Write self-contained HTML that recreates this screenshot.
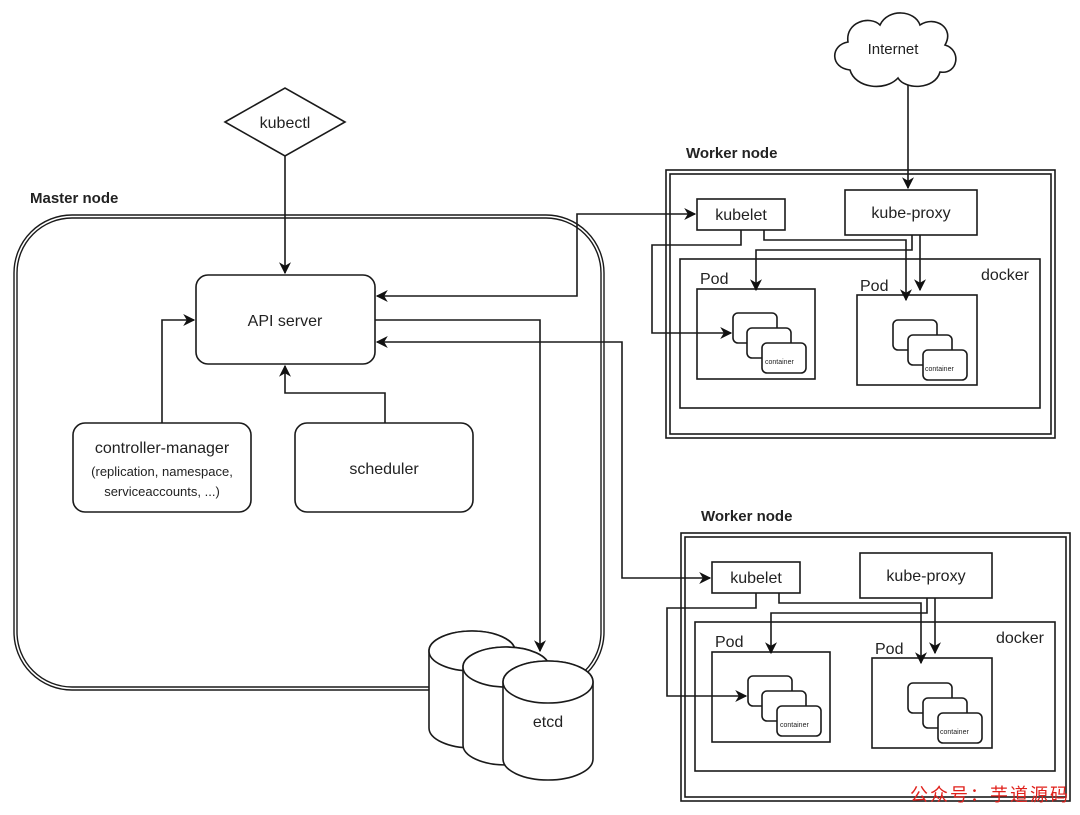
<!DOCTYPE html>
<html><head><meta charset="utf-8"><style>
html,body{margin:0;padding:0;background:#fff;width:1080px;height:815px;overflow:hidden}
svg text{font-family:"Liberation Sans","Noto Sans CJK SC",sans-serif;fill:#222}
</style></head><body>
<svg width="1080" height="815" viewBox="0 0 1080 815" xmlns="http://www.w3.org/2000/svg">
<defs>
<marker id="a" viewBox="0 0 10 10" refX="9" refY="5" markerWidth="12" markerHeight="12" orient="auto-start-reverse" markerUnits="userSpaceOnUse"><path d="M0,0 L10,5 L0,10 L3,5 Z" fill="#111"/></marker>
</defs>
<g fill="none" stroke="#1a1a1a" stroke-width="1.6">
<!-- Master node -->
<rect x="14" y="215" width="590" height="475" rx="58" stroke-width="1.4"/>
<rect x="17" y="218" width="584" height="469" rx="55" stroke-width="1.4"/>
<!-- kubectl -->
<polygon points="225,122 285,88 345,122 285,156" fill="#fff"/>
<line x1="285" y1="156" x2="285" y2="273" marker-end="url(#a)"/>
<!-- API server -->
<rect x="196" y="275" width="179" height="89" rx="12" fill="#fff"/>
<rect x="73" y="423" width="178" height="89" rx="12" fill="#fff"/>
<rect x="295" y="423" width="178" height="89" rx="12" fill="#fff"/>
<polyline points="162,423 162,320 194,320" marker-end="url(#a)"/>
<polyline points="385,423 385,393 285,393 285,366" marker-end="url(#a)"/>
<!-- API -> etcd -->
<polyline points="375,320 540,320 540,651" marker-end="url(#a)"/>
<!-- API <-> kubelet1 -->
<polyline points="377,296 577,296 577,214 695,214" marker-start="url(#a)" marker-end="url(#a)"/>
<!-- API <-> kubelet2 -->
<polyline points="377,342 622,342 622,578 710,578" marker-start="url(#a)" marker-end="url(#a)"/>
<!-- etcd cylinders -->
<path d="M429,651 V728 A43,20 0 0 0 515,728 V651 A43,20 0 0 0 429,651 Z" fill="#fff"/>
<ellipse cx="472" cy="651" rx="43" ry="20" fill="#fff"/>
<path d="M463,667 V745 A43,20 0 0 0 549,745 V667 A43,20 0 0 0 463,667 Z" fill="#fff"/>
<ellipse cx="506" cy="667" rx="43" ry="20" fill="#fff"/>
<path d="M503,682 V759 A45,21 0 0 0 593,759 V682 A45,21 0 0 0 503,682 Z" fill="#fff"/>
<ellipse cx="548" cy="682" rx="45" ry="21" fill="#fff"/>
<!-- Internet cloud -->
<path d="M850,70 C830,68 830,45 848,42 C845,22 870,15 880,25 C888,8 915,10 920,25 C935,15 955,28 945,45 C962,50 958,75 940,72 C935,90 905,90 898,78 C885,92 855,88 850,70 Z" fill="#fff"/>
<line x1="908" y1="85" x2="908" y2="188" marker-end="url(#a)"/>
</g>
<g font-size="16">
<text x="30" y="203" font-weight="bold" font-size="15">Master node</text>
<text x="285" y="128" text-anchor="middle">kubectl</text>
<text x="285" y="326" text-anchor="middle">API server</text>
<text x="162" y="453" text-anchor="middle">controller-manager</text>
<text x="162" y="476" text-anchor="middle" font-size="13">(replication, namespace,</text>
<text x="162" y="496" text-anchor="middle" font-size="13">serviceaccounts, ...)</text>
<text x="384" y="474" text-anchor="middle">scheduler</text>
<text x="548" y="727" text-anchor="middle">etcd</text>
<text x="893" y="54" text-anchor="middle" font-size="15">Internet</text>
</g>

<g id="w1">
<g fill="none" stroke="#1a1a1a" stroke-width="1.6">
<rect x="666" y="170" width="389" height="268"/>
<rect x="670" y="174" width="381" height="260"/>
<rect x="697" y="199" width="88" height="31" fill="#fff"/>
<rect x="845" y="190" width="132" height="45" fill="#fff"/>
<rect x="680" y="259" width="360" height="149"/>
<rect x="697" y="289" width="118" height="90"/>
<rect x="857" y="295" width="120" height="90"/>
<rect x="733" y="313" width="44" height="30" rx="5" fill="#fff"/>
<rect x="747" y="328" width="44" height="30" rx="5" fill="#fff"/>
<rect x="762" y="343" width="44" height="30" rx="5" fill="#fff"/>
<rect x="893" y="320" width="44" height="30" rx="5" fill="#fff"/>
<rect x="908" y="335" width="44" height="30" rx="5" fill="#fff"/>
<rect x="923" y="350" width="44" height="30" rx="5" fill="#fff"/>
<polyline points="741,230 741,245 652,245 652,333 731,333" marker-end="url(#a)"/>
<polyline points="764,230 764,240 906,240 906,300" marker-end="url(#a)"/>
<polyline points="912,235 912,250 756,250 756,290" marker-end="url(#a)"/>
<polyline points="920,235 920,290" marker-end="url(#a)"/>
</g>
<g font-size="16">
<text x="686" y="158" font-weight="bold" font-size="15">Worker node</text>
<text x="741" y="220" text-anchor="middle">kubelet</text>
<text x="911" y="218" text-anchor="middle">kube-proxy</text>
<text x="1029" y="280" text-anchor="end">docker</text>
<text x="700" y="284">Pod</text>
<text x="860" y="291">Pod</text>
<g font-size="7" fill="#555"><text x="765" y="364">container</text><text x="925" y="371">container</text></g>
</g>
</g>
<use href="#w1" transform="translate(15,363)"/>
<text x="910" y="801" font-size="18" letter-spacing="2" style="fill:#e0201b">公众号：芋道源码</text>
</svg>
</body></html>
